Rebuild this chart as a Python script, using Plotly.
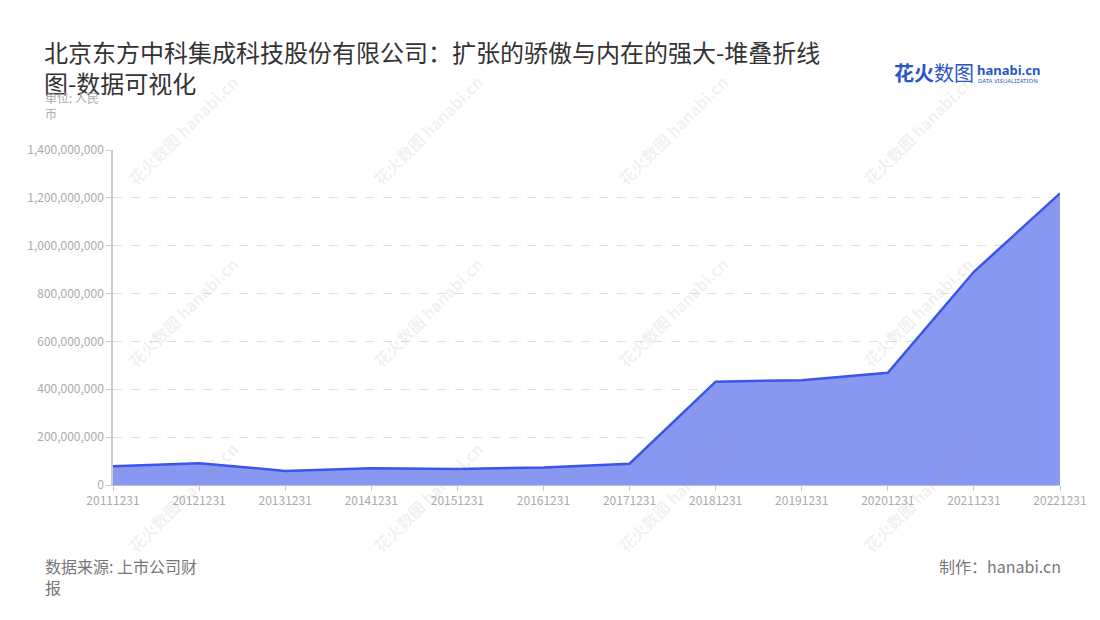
import plotly.graph_objects as go

categories = ["20111231", "20121231", "20131231", "20141231", "20151231", "20161231",
              "20171231", "20181231", "20191231", "20201231", "20211231", "20221231"]
values = [78e6, 91e6, 59e6, 70e6, 67e6, 73e6, 89e6, 432e6, 438e6, 469e6, 891e6, 1219e6]
y_ticks = [0, 200e6, 400e6, 600e6, 800e6, 1000e6, 1200e6, 1400e6]
y_tick_labels = ["0", "200,000,000", "400,000,000", "600,000,000", "800,000,000",
                 "1,000,000,000", "1,200,000,000", "1,400,000,000"]

FONT = "Noto Sans CJK SC"

# page offset of the plotly div (body margin) and figure geometry
OFF = 8
W, H = 1092, 612
L, T = 113 - OFF, 150 - OFF
R = W - (1060 - OFF)
B = H - (485 - OFF)
PW, PH = W - L - R, H - T - B


def px(xp):
    return (xp - OFF - L) / PW


def py(yp):
    return 1 - (yp - OFF - T) / PH


fig = go.Figure()
fig.add_trace(go.Scatter(
    x=categories, y=values, mode="lines",
    line=dict(color="#3a55e8", width=2.5),
    fill="tozeroy", fillcolor="#8898f0",
    hoverinfo="x+y", showlegend=False,
))

annotations = []
# watermarks
for cx in [183, 428, 673, 918]:
    for cy in [130, 312, 497]:
        annotations.append(dict(
            xref="paper", yref="paper", x=px(cx), y=py(cy), showarrow=False,
            xanchor="center", yanchor="middle",
            text="<b>花火数图</b> <b>hanabi.cn</b>", textangle=-45,
            font=dict(family=FONT, size=16, color="rgba(150,150,150,0.15)"),
        ))

annotations += [
    dict(xref="paper", yref="paper", x=px(43), y=py(105), xanchor="left", yanchor="middle",
         align="left", showarrow=False, text="单位: 人民<br>币",
         font=dict(family=FONT, size=12, color="#aaa")),
    dict(xref="paper", yref="paper", x=px(43), y=py(576), xanchor="left", yanchor="middle",
         align="left", showarrow=False, text="数据来源: 上市公司财<br>报",
         font=dict(family=FONT, size=16, color="#777")),
    dict(xref="paper", yref="paper", x=px(1063), y=py(566), xanchor="right", yanchor="middle",
         align="right", showarrow=False, text="制作：hanabi.cn",
         font=dict(family=FONT, size=16, color="#777")),
    dict(xref="paper", yref="paper", x=px(892), y=py(73), xanchor="left", yanchor="middle",
         showarrow=False, text="<b>花火</b>数图",
         font=dict(family=FONT, size=20, color="#2b56c9")),
    dict(xref="paper", yref="paper", x=px(975), y=py(70), xanchor="left", yanchor="middle",
         showarrow=False, text="<b>hanabi.cn</b>",
         font=dict(family="Noto Sans", size=13, color="#2b56c9")),
    dict(xref="paper", yref="paper", x=px(976), y=py(81), xanchor="left", yanchor="middle",
         showarrow=False, text="DATA VISUALIZATION",
         font=dict(family="Noto Sans", size=6, color="#2b56c9")),
]

fig.update_layout(
    width=W, height=H,
    paper_bgcolor="white", plot_bgcolor="white",
    margin=dict(l=L, r=R, t=T, b=B),
    font=dict(family=FONT, color="#999"),
    title=dict(
        text="北京东方中科集成科技股份有限公司：扩张的骄傲与内在的强大-堆叠折线<br>图-数据可视化",
        x=(44 - OFF) / W, xanchor="left", y=1 - (62 - OFF) / H, yanchor="top",
        font=dict(family=FONT, size=24, color="#333"),
    ),
    xaxis=dict(
        type="category", range=[0, len(categories) - 1],
        showgrid=False, showline=True, linecolor="#b8c0f0", linewidth=1,
        ticks="outside", ticklen=5, tickcolor="#ccc",
        tickfont=dict(family=FONT, size=12, color="#aaa"),
        zeroline=False,
    ),
    yaxis=dict(
        range=[0, 1.4e9], tickvals=y_ticks, ticktext=y_tick_labels,
        showgrid=True, gridcolor="#e0e0e0", griddash="dash", gridwidth=1,
        showline=True, linecolor="#ccc", linewidth=1.5,
        ticks="outside", ticklen=5, tickcolor="#ccc",
        tickfont=dict(family=FONT, size=12, color="#aaa"),
        zeroline=False,
    ),
    annotations=annotations,
)

fig.write_html("out.html")
